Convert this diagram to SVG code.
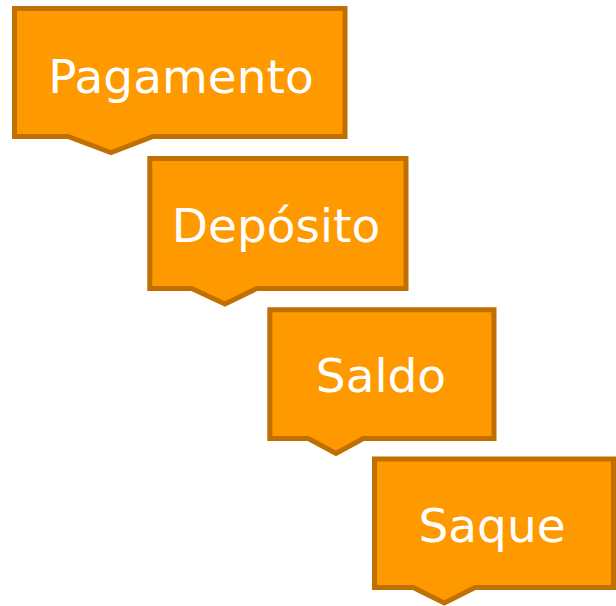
<svg xmlns="http://www.w3.org/2000/svg" width="616" height="606" viewBox="0 0 616 606">
<style>
.box{fill:#FF9900;stroke:#C07000;stroke-width:5;stroke-linejoin:miter}
.lbl{font-family:"DejaVu Sans",Verdana,sans-serif;font-size:47px;fill:#FFFFFF;text-anchor:middle}
</style>
<rect width="616" height="606" fill="#FFFFFF"/>
<g id="connectors"></g>
<g id="node-pagamento">
<path class="box" d="M14.5,8.5 H345 V136.5 H153 L111,152.5 L68,136.5 H14.5 Z"/>
<text class="lbl" x="181" y="92.5">Pagamento</text>
</g>
<g id="node-deposito">
<path class="box" d="M149.8,158.5 H406 V288.5 H256.7 L225,304 L191.7,288.5 H149.8 Z"/>
<text class="lbl" x="276" y="241.7">Depósito</text>
</g>
<g id="node-saldo">
<path class="box" d="M269.8,309.8 H494 V438.5 H363.3 L336,453.5 L308.3,438.5 H269.8 Z"/>
<text class="lbl" x="381" y="391.7">Saldo</text>
</g>
<g id="node-saque">
<path class="box" d="M374.5,459 H613.5 V587.5 H475 L444.3,603 L413.3,587.5 H374.5 Z"/>
<text class="lbl" x="492" y="541.7">Saque</text>
</g>
</svg>
